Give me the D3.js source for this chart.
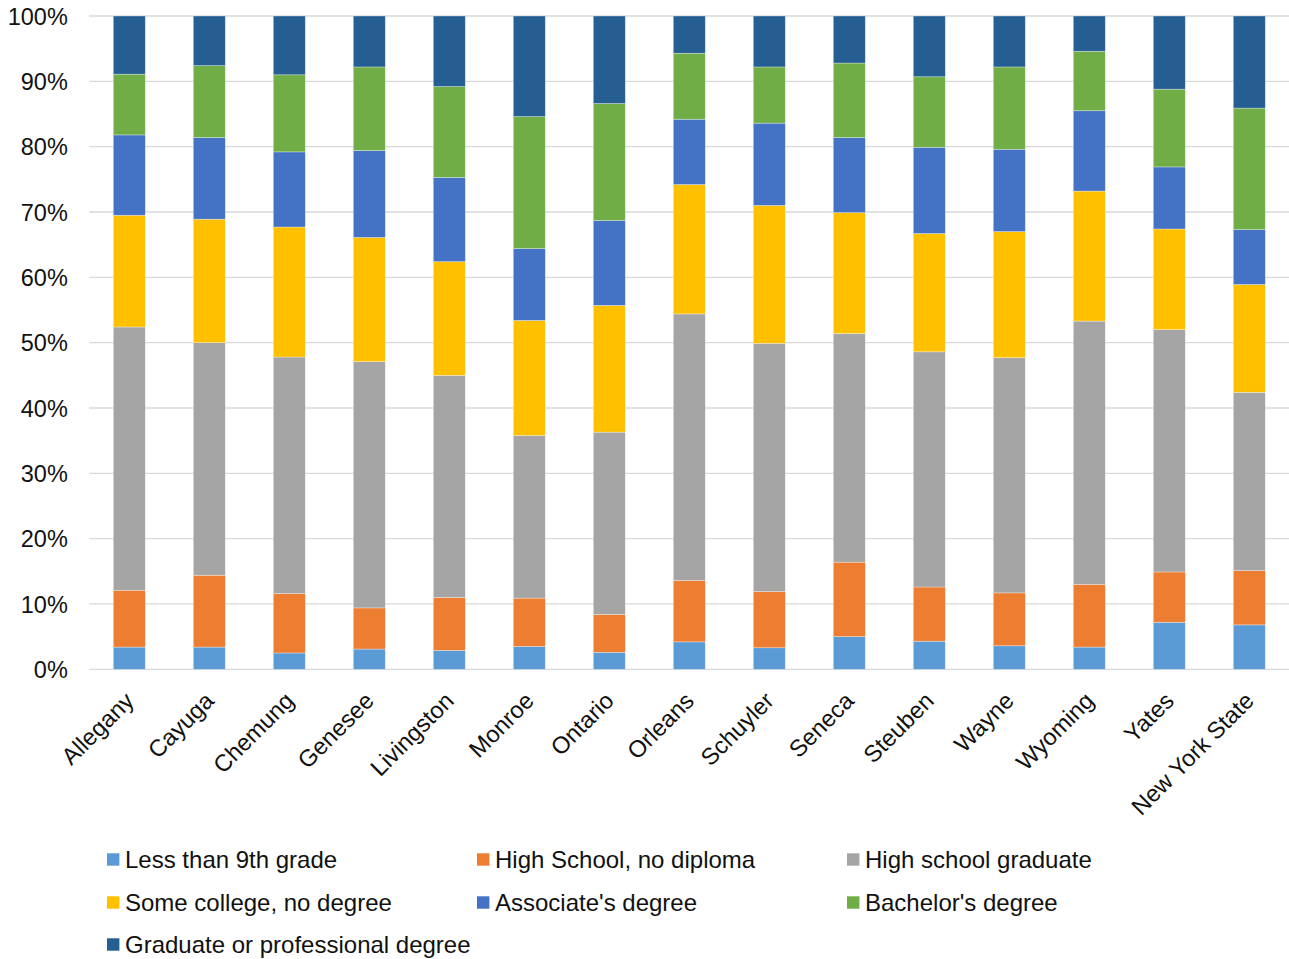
<!DOCTYPE html>
<html>
<head>
<meta charset="utf-8">
<script src="https://cdn.jsdelivr.net/npm/d3@7"></script>
<style>
  html, body { margin: 0; padding: 0; background: #fff; }
  svg { display: block; }
  text { font-family: "Liberation Sans", Arial, sans-serif; fill: #111; }
</style>
</head>
<body>
<svg id="chart" width="1289" height="959"></svg>
<script>
const categories = ["Allegany", "Cayuga", "Chemung", "Genesee", "Livingston", "Monroe", "Ontario", "Orleans", "Schuyler", "Seneca", "Steuben", "Wayne", "Wyoming", "Yates", "New York State"];

const seriesNames = ["Less than 9th grade", "High School, no diploma", "High school graduate", "Some college, no degree", "Associate's degree", "Bachelor's degree", "Graduate or professional degree"];

const lessThan9th   = [3.4, 3.4, 2.5, 3.1, 2.9, 3.5, 2.6, 4.2, 3.3, 5.0, 4.3, 3.6, 3.4, 7.2, 6.8];
const hsNoDiploma   = [8.7, 11.0, 9.1, 6.3, 8.1, 7.4, 5.8, 9.4, 8.6, 11.4, 8.3, 8.1, 9.6, 7.7, 8.3];
const hsGraduate    = [40.3, 35.6, 36.2, 37.7, 34.0, 24.9, 27.9, 40.8, 38.0, 35.0, 36.0, 36.0, 40.3, 37.1, 27.3];
const someCollege   = [17.1, 18.9, 19.9, 19.0, 17.4, 17.6, 19.4, 19.8, 21.1, 18.5, 18.1, 19.3, 19.9, 15.4, 16.5];
const associate     = [12.3, 12.5, 11.5, 13.3, 12.9, 11.0, 13.0, 10.0, 12.6, 11.5, 13.2, 12.6, 12.3, 9.5, 8.4];
const bachelor      = [9.3, 11.0, 11.8, 12.8, 13.9, 20.2, 17.9, 10.1, 8.6, 11.4, 10.8, 12.6, 9.1, 11.9, 18.6];
const graduate      = [8.9, 7.6, 9.0, 7.8, 10.8, 15.4, 13.4, 5.7, 7.8, 7.2, 9.3, 7.8, 5.4, 11.2, 14.1];

const yTicks = [0, 10, 20, 30, 40, 50, 60, 70, 80, 90, 100];

const colors = ["#5B9BD5", "#ED7D31", "#A5A5A5", "#FFC000", "#4472C4", "#70AD47", "#255E91"];

const seriesValues = [lessThan9th, hsNoDiploma, hsGraduate, someCollege, associate, bachelor, graduate];

const rows = categories.map((c, i) => {
  const r = { category: c };
  seriesNames.forEach((s, j) => { r[s] = seriesValues[j][i]; });
  return r;
});

const svg = d3.select("#chart");

const plotLeft = 89.3, plotRight = 1289.3, plotTop = 16, plotBottom = 669.3;

const x = d3.scaleBand().domain(categories).range([plotLeft, plotRight]).paddingInner(0.6).paddingOuter(0.3);
const y = d3.scaleLinear().domain([0, 100]).range([plotBottom, plotTop]);

// gridlines
svg.append("g")
  .selectAll("line")
  .data(yTicks)
  .join("line")
  .attr("x1", plotLeft).attr("x2", plotRight)
  .attr("y1", d => y(d)).attr("y2", d => y(d))
  .attr("stroke", "#D9D9D9")
  .attr("stroke-width", 1.3);

// y axis labels
const yAxis = d3.axisLeft(y).tickValues(yTicks).tickFormat(d => d + "%").tickSize(0).tickPadding(0);
const yg = svg.append("g").attr("transform", `translate(${plotLeft - 21.5},0)`).call(yAxis);
yg.select(".domain").remove();
yg.selectAll("text")
  .attr("font-size", "23.5px")
  .attr("font-family", "'Liberation Sans', Arial, sans-serif")
  .attr("fill", "#111")
  .attr("dy", "0.35em");

// stacked bars
const stack = d3.stack().keys(seriesNames);
const stacked = stack(rows);

svg.append("g")
  .selectAll("g")
  .data(stacked)
  .join("g")
  .attr("fill", (d, i) => colors[i])
  .selectAll("rect")
  .data(d => d)
  .join("rect")
  .attr("x", d => x(d.data.category))
  .attr("width", x.bandwidth())
  .attr("y", d => y(d[1]))
  .attr("height", d => y(d[0]) - y(d[1]))
  .attr("stroke", "#ffffff")
  .attr("stroke-opacity", 0.45)
  .attr("stroke-width", 0.7);

// x axis labels
const xAxis = d3.axisBottom(x).tickSize(0).tickPadding(0);
const xg = svg.append("g").attr("transform", `translate(0,${plotBottom})`).call(xAxis);
xg.select(".domain").remove();
xg.selectAll("text")
  .attr("font-size", "23.6px")
  .attr("font-family", "'Liberation Sans', Arial, sans-serif")
  .attr("fill", "#111")
  .attr("text-anchor", "end")
  .attr("y", 0)
  .attr("dy", "0.3em")
  .attr("transform", "translate(1,28) rotate(-45)");

// legend
const legendCols = [107, 477, 847];
const legendRows = [859.5, 902.5, 944.5];
const legend = svg.append("g")
  .selectAll("g")
  .data(seriesNames)
  .join("g")
  .attr("transform", (d, i) => `translate(${legendCols[i % 3]},${legendRows[Math.floor(i / 3)]})`);
legend.append("rect")
  .attr("x", 0).attr("y", -6.2)
  .attr("width", 12.4).attr("height", 12.4)
  .attr("fill", (d, i) => colors[i]);
legend.append("text")
  .attr("x", 18)
  .attr("dy", "0.35em")
  .attr("font-size", "24px")
  .text(d => d);
</script>
</body>
</html>
